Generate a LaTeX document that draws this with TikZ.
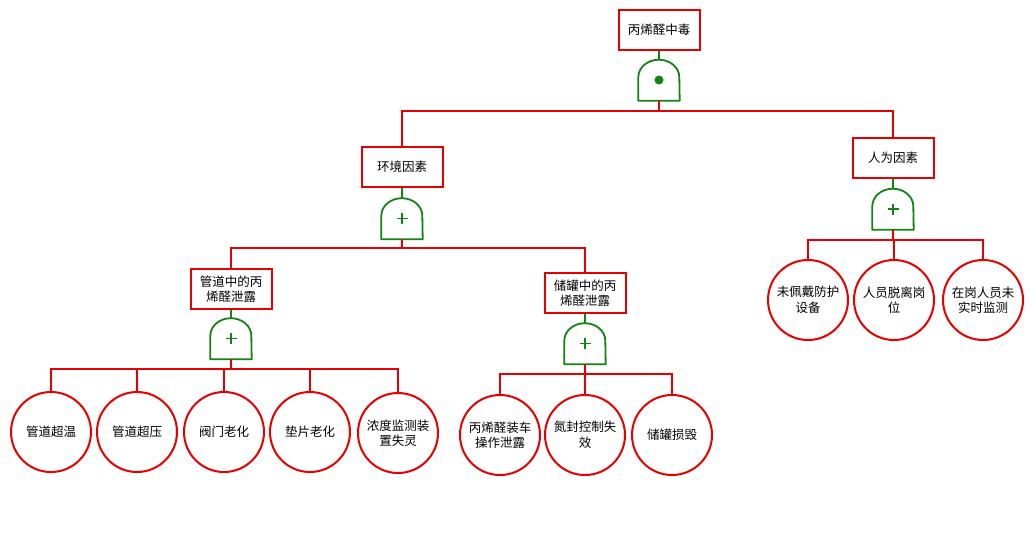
\documentclass[tikz,border=0pt]{standalone}
\usepackage{fontspec}
\newfontfamily\cjk{Noto Sans CJK SC}
\definecolor{ftred}{RGB}{230,0,0}
\definecolor{ftgreen}{RGB}{20,130,20}
\begin{document}
\begin{tikzpicture}[x=1pt,y=1pt,
  font=\cjk\fontsize{12.5}{15.5}\selectfont,
  evbox/.style={draw=ftred,line width=2pt,fill=white,minimum width=81pt,minimum height=40pt,inner sep=1pt,align=center},
  basic/.style={draw=ftred,line width=2pt,fill=white,circle,minimum size=80pt,inner sep=0pt,align=center},
  gatenode/.style={rectangle,minimum width=41pt,minimum height=41pt,inner sep=0pt},
  gline/.style={draw=ftgreen,line width=1.8pt},
  rline/.style={draw=ftred,line width=2pt},
]
\useasboundingbox (0,0) rectangle (1032,-536);
\fill[white] (0,0) rectangle (1032,-536);

% events
\node[evbox] (top) at (659,-30) {丙烯醛中毒};
\node[evbox] (env) at (402,-167) {环境因素};
\node[evbox] (hum) at (893,-158) {人为因素};
\node[evbox] (pipe) at (231,-289) {管道中的丙\\烯醛泄露};
\node[evbox] (tank) at (585,-293) {储罐中的丙\\烯醛泄露};

% gates
\node[gatenode] (g0) at (659,-80) {};
\node[gatenode] (genv) at (402,-218.5) {};
\node[gatenode] (ghum) at (893,-209) {};
\node[gatenode] (gpipe) at (231,-338.5) {};
\node[gatenode] (gtank) at (585,-343.5) {};

% basic events
\node[basic] (b1) at (51,-432) {管道超温};
\node[basic] (b2) at (137,-432) {管道超压};
\node[basic] (b3) at (224,-432) {阀门老化};
\node[basic] (b4) at (310,-432) {垫片老化};
\node[basic] (b5) at (398,-433) {浓度监测装\\置失灵};
\node[basic] (b6) at (500,-435) {丙烯醛装车\\操作泄露};
\node[basic] (b7) at (585,-435) {氮封控制失\\效};
\node[basic] (b8) at (672,-435) {储罐损毁};
\node[basic] (b9) at (808,-300) {未佩戴防护\\设备};
\node[basic] (b10) at (894,-300) {人员脱离岗\\位};
\node[basic] (b11) at (983,-300) {在岗人员未\\实时监测};

% gate shapes
\foreach \g in {g0,genv,ghum,gpipe,gtank}{
  \draw[gline,fill=white,line join=round] (\g.south west) -- ++(0,23.5)
    arc[start angle=180,end angle=0,x radius=20.5pt,y radius=17.5pt] -- (\g.south east) -- cycle;
}
\fill[ftgreen] (g0.center) circle (4.5pt);
\foreach \g in {genv,ghum,gpipe,gtank}{
  \draw[draw=ftgreen,line width=1.8pt] ([xshift=-5.5pt]\g.center) -- ([xshift=5.5pt]\g.center);
  \draw[draw=ftgreen,line width=1.8pt] ([yshift=-5.5pt]\g.center) -- ([yshift=5.5pt]\g.center);
}

% green links event -> gate
\draw[gline] (top.south) -- (g0.north);
\draw[gline] (env.south) -- (genv.north);
\draw[gline] (hum.south) -- (ghum.north);
\draw[gline] (pipe.south) -- (gpipe.north);
\draw[gline] (tank.south) -- (gtank.north);

% red links gate -> children
\foreach \c in {env,hum}{\draw[rline] (g0.south) -- ++(0,-10) -| (\c.north);}
\foreach \c in {pipe,tank}{\draw[rline] (genv.south) -- ++(0,-9) -| (\c.north);}
\foreach \c in {b9,b10,b11}{\draw[rline] (ghum.south) -- ++(0,-10) -| (\c.north);}
\foreach \c in {b1,b2,b3,b4,b5}{\draw[rline] (gpipe.south) -- ++(0,-9.5) -| (\c.north);}
\foreach \c in {b6,b7,b8}{\draw[rline] (gtank.south) -- ++(0,-10) -| (\c.north);}
\end{tikzpicture}
\end{document}
